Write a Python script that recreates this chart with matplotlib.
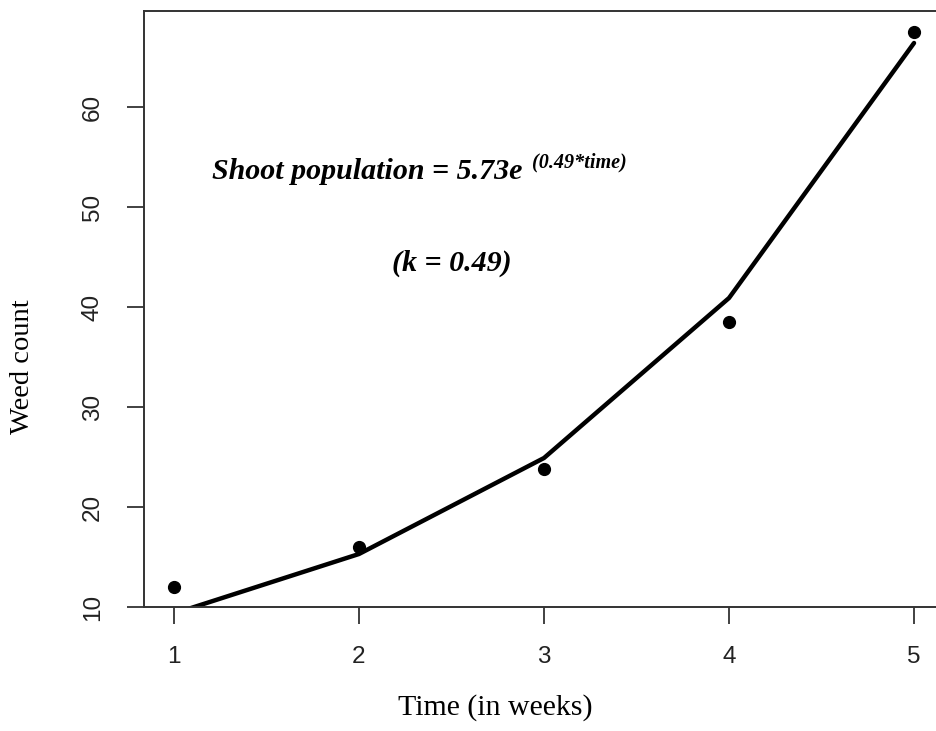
import matplotlib
matplotlib.use("Agg")
import matplotlib.pyplot as plt

# Datos
weeks = [1, 2, 3, 4, 5]
weed_count = [12.0, 16.0, 23.8, 38.5, 67.5]
fitted = [9.35, 15.3, 24.9, 40.9, 66.4]
x_ticks = [1, 2, 3, 4, 5]
y_ticks = [10, 20, 30, 40, 50, 60]

W, H = 937, 731


def fx(px):
    return px / W


def fy(py):
    return 1 - py / H


fig = plt.figure(figsize=(W / 100, H / 100), dpi=100)
ax = fig.add_axes([fx(144), fy(607), (944 - 144) / W, (607 - 11) / H])

ax.plot(weeks, fitted, color="black", lw=3.2, solid_capstyle="round")
ax.plot(weeks, weed_count, "o", color="black", ms=8.5)

ax.set_xlim(0.838, 5.162)
ax.set_ylim(10, 69.6)
ax.set_xticks(x_ticks)
ax.set_yticks(y_ticks)

for s in ax.spines.values():
    s.set_linewidth(1.4)
    s.set_color("#333333")

ax.tick_params(length=12, width=1.3, color="#333333", labelsize=17.5,
               labelcolor="#222222")
ax.tick_params(axis="x", pad=16)
ax.tick_params(axis="y", pad=17)
for lab in ax.get_xticklabels() + ax.get_yticklabels():
    lab.set_family("Liberation Sans")
for lab in ax.get_yticklabels():
    lab.set_rotation(90)
    lab.set_va("center")

# Etiquetas de ejes
fig.text(fx(495), fy(708), "Time (in weeks)", family="Liberation Serif",
         fontsize=21.5, ha="center", va="center")
fig.text(fx(23), fy(367), "Weed count", family="Liberation Serif",
         fontsize=20.5, ha="center", va="center", rotation=90)

# Ecuacion del modelo
fig.text(fx(212), fy(179), "Shoot population = 5.73e", family="Liberation Serif",
         fontsize=21.6, weight="bold", style="italic", ha="left", va="baseline")
fig.text(fx(532), fy(167), "(0.49*time)", family="Liberation Serif",
         fontsize=14.5, weight="bold", style="italic", ha="left", va="baseline")
fig.text(fx(392), fy(271), "(k = 0.49)", family="Liberation Serif",
         fontsize=21.6, weight="bold", style="italic", ha="left", va="baseline")

fig.savefig("out.png", dpi=100)
